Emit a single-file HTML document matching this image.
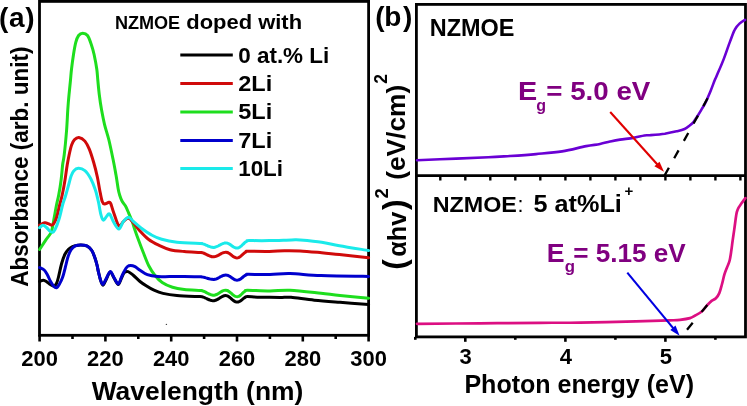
<!DOCTYPE html><html><head><meta charset="utf-8"><title>chart</title><style>html,body{margin:0;padding:0;background:#fff;width:747px;height:406px;overflow:hidden;}svg{display:block;will-change:transform;}</style></head><body><svg width="747" height="406" viewBox="0 0 747 406" font-family='"Liberation Sans", sans-serif' font-weight="bold" fill="#000"><rect x="39.5" y="1.4" width="329.1" height="333.9" fill="none" stroke="#000" stroke-width="2.8"/><line x1="39.6" y1="335" x2="39.6" y2="341.5" stroke="#000" stroke-width="2.6"/><line x1="72.5" y1="335" x2="72.5" y2="339.0" stroke="#000" stroke-width="2.6"/><line x1="105.4" y1="335" x2="105.4" y2="341.5" stroke="#000" stroke-width="2.6"/><line x1="138.3" y1="335" x2="138.3" y2="339.0" stroke="#000" stroke-width="2.6"/><line x1="171.2" y1="335" x2="171.2" y2="341.5" stroke="#000" stroke-width="2.6"/><line x1="204.1" y1="335" x2="204.1" y2="339.0" stroke="#000" stroke-width="2.6"/><line x1="237.0" y1="335" x2="237.0" y2="341.5" stroke="#000" stroke-width="2.6"/><line x1="269.9" y1="335" x2="269.9" y2="339.0" stroke="#000" stroke-width="2.6"/><line x1="302.8" y1="335" x2="302.8" y2="341.5" stroke="#000" stroke-width="2.6"/><line x1="335.7" y1="335" x2="335.7" y2="339.0" stroke="#000" stroke-width="2.6"/><line x1="368.6" y1="335" x2="368.6" y2="341.5" stroke="#000" stroke-width="2.6"/><text x="39.6" y="366.2" font-size="22" text-anchor="middle" textLength="36.6" lengthAdjust="spacingAndGlyphs">200</text><text x="105.4" y="366.2" font-size="22" text-anchor="middle" textLength="36.6" lengthAdjust="spacingAndGlyphs">220</text><text x="171.2" y="366.2" font-size="22" text-anchor="middle" textLength="36.6" lengthAdjust="spacingAndGlyphs">240</text><text x="237.0" y="366.2" font-size="22" text-anchor="middle" textLength="36.6" lengthAdjust="spacingAndGlyphs">260</text><text x="302.8" y="366.2" font-size="22" text-anchor="middle" textLength="36.6" lengthAdjust="spacingAndGlyphs">280</text><text x="368.6" y="366.2" font-size="22" text-anchor="middle" textLength="36.6" lengthAdjust="spacingAndGlyphs">300</text><rect x="416.4" y="4.4" width="329.1" height="332.5" fill="none" stroke="#000" stroke-width="2.8"/><line x1="416.4" y1="175.6" x2="745.5" y2="175.6" stroke="#000" stroke-width="2.6"/><line x1="440.3" y1="175.6" x2="440.3" y2="180.5" stroke="#000" stroke-width="2.4"/><line x1="465.3" y1="175.6" x2="465.3" y2="180.5" stroke="#000" stroke-width="2.4"/><line x1="490.3" y1="175.6" x2="490.3" y2="180.5" stroke="#000" stroke-width="2.4"/><line x1="515.3" y1="175.6" x2="515.3" y2="180.5" stroke="#000" stroke-width="2.4"/><line x1="540.3" y1="175.6" x2="540.3" y2="180.5" stroke="#000" stroke-width="2.4"/><line x1="565.4" y1="175.6" x2="565.4" y2="180.5" stroke="#000" stroke-width="2.4"/><line x1="590.4" y1="175.6" x2="590.4" y2="180.5" stroke="#000" stroke-width="2.4"/><line x1="615.4" y1="175.6" x2="615.4" y2="180.5" stroke="#000" stroke-width="2.4"/><line x1="640.4" y1="175.6" x2="640.4" y2="180.5" stroke="#000" stroke-width="2.4"/><line x1="665.4" y1="175.6" x2="665.4" y2="180.5" stroke="#000" stroke-width="2.4"/><line x1="690.4" y1="175.6" x2="690.4" y2="180.5" stroke="#000" stroke-width="2.4"/><line x1="715.4" y1="175.6" x2="715.4" y2="180.5" stroke="#000" stroke-width="2.4"/><line x1="740.4" y1="175.6" x2="740.4" y2="180.5" stroke="#000" stroke-width="2.4"/><line x1="415.3" y1="336.9" x2="415.3" y2="339.8" stroke="#000" stroke-width="2.6"/><line x1="465.3" y1="336.9" x2="465.3" y2="341.8" stroke="#000" stroke-width="2.6"/><line x1="515.3" y1="336.9" x2="515.3" y2="339.8" stroke="#000" stroke-width="2.6"/><line x1="565.4" y1="336.9" x2="565.4" y2="341.8" stroke="#000" stroke-width="2.6"/><line x1="615.4" y1="336.9" x2="615.4" y2="339.8" stroke="#000" stroke-width="2.6"/><line x1="665.4" y1="336.9" x2="665.4" y2="341.8" stroke="#000" stroke-width="2.6"/><line x1="715.4" y1="336.9" x2="715.4" y2="339.8" stroke="#000" stroke-width="2.6"/><text x="465.7" y="364.4" font-size="22" text-anchor="middle">3</text><text x="565.8" y="364.4" font-size="22" text-anchor="middle">4</text><text x="665.8" y="364.4" font-size="22" text-anchor="middle">5</text><path d="M39.6,249.5 C40.6,248.0 43.8,243.0 45.4,240.6 C47.0,238.2 48.5,236.6 49.5,235.0 C50.5,233.4 50.9,233.7 51.6,231.1 C52.3,228.5 53.1,223.7 53.9,219.3 C54.7,214.9 55.8,208.6 56.6,204.5 C57.4,200.4 58.0,199.1 58.7,195.0 C59.5,190.9 60.5,185.0 61.1,180.0 C61.8,175.0 62.1,169.2 62.6,165.0 C63.1,160.8 63.5,160.8 64.2,155.0 C64.9,149.2 66.0,137.6 66.6,130.0 C67.2,122.4 67.4,115.4 67.8,109.5 C68.2,103.6 68.5,99.7 69.0,94.8 C69.5,89.9 70.1,84.2 70.5,80.0 C70.9,75.8 71.0,73.5 71.5,69.3 C72.0,65.0 72.8,58.9 73.5,54.5 C74.2,50.1 74.9,45.9 75.7,42.7 C76.5,39.5 77.4,37.1 78.6,35.5 C79.8,33.9 81.3,33.3 82.8,33.3 C84.3,33.3 86.1,33.7 87.5,35.5 C88.9,37.3 90.1,41.0 91.2,44.2 C92.3,47.4 93.2,50.3 94.1,54.5 C95.0,58.7 96.2,65.0 96.8,69.3 C97.4,73.5 97.4,75.8 97.8,80.0 C98.2,84.2 98.7,89.9 99.3,94.8 C99.9,99.7 100.6,104.6 101.5,109.5 C102.4,114.4 103.3,119.2 104.5,124.3 C105.7,129.4 107.5,134.2 108.9,140.0 C110.3,145.8 111.8,153.2 113.0,159.0 C114.2,164.8 115.1,170.0 116.0,175.0 C116.9,180.0 117.6,185.6 118.2,189.0 C118.8,192.4 119.2,193.5 119.8,195.5 C120.4,197.5 121.0,199.2 122.0,201.0 C123.0,202.8 124.4,204.2 125.5,206.1 C126.6,208.0 127.4,210.1 128.5,212.7 C129.6,215.3 131.1,218.6 132.2,221.6 C133.3,224.6 134.0,227.3 135.1,230.5 C136.2,233.7 137.4,237.1 138.8,240.8 C140.2,244.6 141.8,248.8 143.5,253.0 C145.2,257.2 147.0,262.3 148.9,266.0 C150.8,269.7 152.6,272.4 154.8,275.2 C157.0,277.9 159.2,280.5 162.2,282.5 C165.1,284.5 168.8,286.1 172.5,287.3 C176.2,288.5 179.7,289.0 184.3,289.5 C188.9,290.0 197.1,290.2 200.0,290.4 C202.9,290.6 201.0,290.5 201.5,290.5 C202.0,290.6 202.5,290.8 203.0,291.0 C203.5,291.1 204.0,291.4 204.5,291.6 C205.0,291.8 205.5,292.1 206.0,292.4 C206.5,292.7 207.1,292.9 207.6,293.2 C208.1,293.5 208.6,293.8 209.1,294.0 C209.6,294.2 210.1,294.5 210.6,294.6 C211.1,294.8 211.6,295.0 212.1,295.1 C212.6,295.1 213.1,295.2 213.6,295.2 C214.1,295.2 214.6,295.1 215.1,295.0 C215.6,294.9 216.1,294.7 216.6,294.5 C217.1,294.2 217.6,294.0 218.1,293.7 C218.6,293.4 219.1,293.0 219.6,292.7 C220.1,292.4 220.6,292.0 221.1,291.7 C221.6,291.4 222.1,291.2 222.6,290.9 C223.1,290.7 223.6,290.5 224.1,290.4 C224.6,290.3 225.1,290.2 225.6,290.2 C226.1,290.2 226.7,290.3 227.3,290.5 C227.8,290.7 228.4,291.1 228.9,291.4 C229.5,291.8 230.0,292.3 230.6,292.7 C231.1,293.2 231.7,293.7 232.2,294.2 C232.8,294.6 233.3,295.1 233.9,295.5 C234.4,295.8 235.0,296.2 235.5,296.4 C236.1,296.6 236.6,296.7 237.2,296.7 C237.8,296.7 238.3,296.5 238.9,296.3 C239.5,296.0 240.1,295.6 240.6,295.1 C241.2,294.6 241.8,294.0 242.3,293.5 C242.9,293.0 243.5,292.4 244.1,291.9 C244.6,291.4 245.2,291.0 245.8,290.7 C246.4,290.5 243.5,290.3 247.5,290.3 C251.5,290.3 262.9,291.0 270.0,291.0 C277.1,291.0 281.5,289.8 290.0,290.2 C298.5,290.6 312.7,292.4 321.0,293.3 C329.3,294.2 332.1,294.7 340.0,295.5 C347.9,296.3 363.8,297.8 368.6,298.2" fill="none" stroke="#1ede1e" stroke-width="3.0" stroke-linejoin="round" stroke-linecap="round"/><path d="M39.6,281.5 C40.2,281.3 42.3,280.1 43.5,280.2 C44.7,280.3 45.9,281.3 47.0,282.0 C48.1,282.7 49.1,283.8 50.3,284.5 C51.5,285.2 53.0,286.4 54.0,286.2 C55.0,286.0 55.8,285.0 56.5,283.5 C57.2,282.0 57.7,280.2 58.5,277.0 C59.3,273.8 60.5,267.8 61.5,264.0 C62.5,260.2 63.6,257.0 64.8,254.5 C66.0,252.0 67.2,250.5 68.5,249.2 C69.8,247.9 71.2,247.2 72.5,246.6 C73.8,246.0 74.6,245.9 76.0,245.6 C77.4,245.3 78.8,244.9 80.7,245.0 C82.6,245.1 85.5,245.2 87.3,246.1 C89.1,247.0 90.6,248.7 91.8,250.5 C93.0,252.3 93.8,254.8 94.7,257.2 C95.6,259.6 96.4,262.5 97.0,265.0 C97.6,267.5 97.9,269.7 98.5,272.2 C99.1,274.7 99.8,277.8 100.5,280.0 C101.2,282.2 102.0,285.2 102.9,285.2 C103.8,285.2 104.8,282.2 106.0,280.0 C107.2,277.8 108.9,272.3 110.2,272.0 C111.5,271.7 112.7,275.9 114.0,278.0 C115.3,280.1 117.0,284.5 118.3,284.5 C119.5,284.5 120.5,280.0 121.5,278.0 C122.5,276.0 123.3,273.6 124.4,272.5 C125.5,271.4 126.7,271.2 128.1,271.6 C129.5,272.0 131.0,273.4 133.0,275.0 C135.0,276.6 137.7,279.6 140.0,281.5 C142.3,283.4 144.7,284.9 147.0,286.3 C149.3,287.8 151.3,289.0 154.0,290.2 C156.7,291.4 159.2,292.5 163.0,293.4 C166.8,294.3 170.7,295.0 176.9,295.5 C183.1,296.0 195.9,296.4 200.0,296.6 C204.1,296.8 201.1,296.7 201.7,296.8 C202.2,296.9 202.8,297.0 203.3,297.2 C203.9,297.4 204.5,297.6 205.0,297.9 C205.6,298.1 206.1,298.4 206.7,298.6 C207.3,298.9 207.8,299.2 208.4,299.4 C208.9,299.7 209.5,299.9 210.1,300.1 C210.6,300.3 211.2,300.4 211.7,300.5 C212.3,300.6 212.9,300.7 213.4,300.7 C213.9,300.7 214.4,300.6 214.9,300.5 C215.4,300.4 215.9,300.2 216.4,300.0 C217.0,299.7 217.5,299.4 218.0,299.1 C218.5,298.8 219.0,298.5 219.5,298.2 C220.0,297.8 220.5,297.5 221.0,297.2 C221.5,296.9 222.0,296.6 222.6,296.3 C223.1,296.1 223.6,295.9 224.1,295.8 C224.6,295.7 225.1,295.6 225.6,295.6 C226.1,295.6 226.7,295.7 227.3,295.9 C227.8,296.1 228.4,296.5 228.9,296.8 C229.5,297.2 230.1,297.7 230.6,298.1 C231.2,298.6 231.7,299.1 232.3,299.6 C232.8,300.0 233.4,300.5 234.0,300.9 C234.5,301.2 235.1,301.6 235.6,301.8 C236.2,302.0 236.7,302.1 237.3,302.1 C237.9,302.1 238.4,302.0 239.0,301.7 C239.6,301.5 240.1,301.1 240.7,300.7 C241.3,300.3 241.8,299.8 242.4,299.4 C243.0,298.9 243.5,298.4 244.1,298.0 C244.7,297.6 245.2,297.2 245.8,297.0 C246.4,296.7 245.1,296.6 247.5,296.6 C249.9,296.6 254.6,297.1 260.0,297.2 C265.4,297.3 274.8,297.4 280.0,297.4 C285.2,297.4 285.3,296.8 291.0,297.3 C296.7,297.8 306.1,299.4 314.3,300.2 C322.5,301.0 330.9,301.6 340.0,302.3 C349.1,303.0 363.8,304.0 368.6,304.4" fill="none" stroke="#000000" stroke-width="3.0" stroke-linejoin="round" stroke-linecap="round"/><path d="M39.6,225.2 C40.5,224.8 43.4,223.1 44.8,222.8 C46.2,222.5 47.1,223.2 48.2,223.6 C49.3,224.0 50.5,225.2 51.5,225.2 C52.5,225.2 53.1,224.6 53.9,223.4 C54.7,222.2 55.5,221.0 56.5,217.8 C57.5,214.7 58.8,208.3 59.8,204.5 C60.8,200.7 61.3,199.1 62.2,195.0 C63.1,190.9 64.2,185.0 65.0,180.0 C65.8,175.0 66.5,169.2 67.2,165.0 C67.9,160.8 68.4,158.3 69.1,155.0 C69.8,151.7 70.7,147.5 71.6,145.0 C72.5,142.5 73.2,141.1 74.4,139.8 C75.6,138.5 77.2,137.2 78.9,137.4 C80.7,137.6 83.2,139.1 84.9,141.1 C86.6,143.1 87.8,145.6 89.3,149.2 C90.8,152.8 92.3,157.8 93.7,162.5 C95.1,167.2 96.4,172.7 97.4,177.3 C98.4,181.9 98.9,186.0 99.7,190.0 C100.5,194.0 101.4,199.2 102.2,201.5 C103.0,203.8 103.5,203.9 104.6,204.0 C105.7,204.1 107.9,202.4 108.9,202.3 C109.9,202.2 109.9,201.8 110.7,203.5 C111.5,205.2 112.3,208.9 113.7,212.7 C115.1,216.4 117.3,224.5 118.9,226.0 C120.5,227.5 121.7,222.9 123.3,221.6 C124.9,220.2 126.8,217.7 128.5,217.9 C130.2,218.2 131.8,221.0 133.6,223.1 C135.4,225.2 137.0,227.8 139.5,230.5 C142.0,233.2 145.2,236.9 148.4,239.3 C151.6,241.8 155.1,243.5 158.7,245.2 C162.3,246.9 165.7,248.6 170.0,249.7 C174.3,250.8 179.3,251.1 184.3,251.5 C189.3,251.9 197.1,252.2 200.0,252.4 C202.9,252.6 201.0,252.4 201.5,252.5 C202.0,252.6 202.5,252.8 203.0,252.9 C203.5,253.1 204.0,253.3 204.5,253.5 C205.0,253.7 205.5,254.0 206.0,254.2 C206.5,254.5 207.0,254.7 207.5,255.0 C208.0,255.2 208.5,255.5 209.0,255.7 C209.5,255.9 210.0,256.1 210.5,256.3 C211.0,256.4 211.5,256.6 212.0,256.7 C212.5,256.8 213.0,256.8 213.5,256.8 C214.0,256.8 214.5,256.7 215.1,256.6 C215.6,256.5 216.1,256.3 216.6,256.1 C217.1,255.9 217.6,255.7 218.2,255.4 C218.7,255.1 219.2,254.8 219.7,254.5 C220.2,254.2 220.7,253.9 221.2,253.6 C221.8,253.3 222.3,253.1 222.8,252.9 C223.3,252.7 223.8,252.5 224.3,252.4 C224.9,252.3 225.4,252.2 225.9,252.2 C226.4,252.2 227.0,252.3 227.5,252.5 C228.0,252.7 228.5,253.0 229.1,253.3 C229.6,253.6 230.1,254.0 230.7,254.4 C231.2,254.8 231.7,255.3 232.2,255.7 C232.8,256.1 233.3,256.5 233.8,256.8 C234.4,257.1 234.9,257.4 235.4,257.6 C235.9,257.8 236.5,257.9 237.0,257.9 C237.5,257.9 238.0,257.8 238.6,257.6 C239.1,257.4 239.6,257.0 240.1,256.7 C240.7,256.3 241.2,255.8 241.7,255.3 C242.2,254.9 242.8,254.3 243.3,253.9 C243.8,253.4 244.3,252.9 244.9,252.5 C245.4,252.2 245.9,251.8 246.4,251.6 C247.0,251.4 244.2,251.3 248.0,251.3 C251.8,251.3 263.4,251.5 269.5,251.4 C275.6,251.3 279.2,250.8 284.3,250.7 C289.4,250.6 293.8,250.6 300.0,250.9 C306.2,251.2 315.1,252.1 321.7,252.7 C328.3,253.3 331.6,253.8 339.4,254.6 C347.2,255.4 363.7,257.2 368.6,257.7" fill="none" stroke="#d00a0a" stroke-width="3.0" stroke-linejoin="round" stroke-linecap="round"/><path d="M39.6,267.5 C40.4,267.9 42.9,268.8 44.2,270.0 C45.5,271.2 46.5,273.2 47.5,275.0 C48.5,276.8 49.3,279.2 50.3,281.0 C51.3,282.8 52.5,284.9 53.5,286.0 C54.5,287.1 55.5,288.1 56.5,287.8 C57.5,287.5 58.5,285.8 59.5,284.0 C60.5,282.2 61.5,280.5 62.6,277.3 C63.7,274.1 65.0,268.5 65.9,265.0 C66.8,261.5 67.2,258.9 68.1,256.4 C69.0,253.9 70.0,251.5 71.1,249.8 C72.2,248.1 73.2,246.9 74.8,246.1 C76.4,245.3 78.6,245.0 80.7,245.0 C82.8,245.0 85.5,245.2 87.3,246.1 C89.1,247.0 90.6,248.7 91.8,250.5 C93.0,252.3 93.8,254.8 94.7,257.2 C95.6,259.6 96.4,262.5 97.0,265.0 C97.6,267.5 97.9,269.7 98.5,272.2 C99.1,274.7 99.8,277.9 100.5,280.0 C101.2,282.1 102.0,284.7 102.9,284.5 C103.8,284.3 104.8,281.1 106.0,279.0 C107.2,276.9 108.9,271.9 110.2,271.6 C111.5,271.4 112.7,275.4 114.0,277.5 C115.3,279.6 117.0,284.0 118.3,283.9 C119.5,283.8 120.5,279.2 121.5,277.0 C122.5,274.8 123.4,272.6 124.4,270.9 C125.4,269.1 126.5,267.4 127.5,266.5 C128.5,265.6 129.3,265.4 130.6,265.4 C131.8,265.4 133.4,265.8 135.0,266.6 C136.6,267.4 137.9,269.0 140.0,270.3 C142.1,271.6 144.5,273.6 147.4,274.7 C150.3,275.8 154.0,276.3 157.7,276.6 C161.4,276.9 165.1,276.6 169.5,276.6 C173.9,276.6 179.2,276.6 184.3,276.6 C189.4,276.6 197.1,276.8 200.0,276.8 C202.9,276.8 201.0,276.8 201.5,276.9 C202.0,276.9 202.5,277.0 203.0,277.1 C203.5,277.2 204.0,277.3 204.5,277.4 C205.0,277.6 205.5,277.7 206.0,277.9 C206.5,278.0 207.0,278.2 207.5,278.3 C208.0,278.5 208.5,278.6 209.0,278.8 C209.5,278.9 210.0,279.0 210.5,279.1 C211.0,279.2 211.5,279.3 212.0,279.3 C212.5,279.4 213.0,279.4 213.5,279.4 C214.0,279.4 214.5,279.3 215.1,279.2 C215.6,279.1 216.1,279.0 216.6,278.8 C217.1,278.6 217.6,278.3 218.2,278.0 C218.7,277.8 219.2,277.5 219.7,277.2 C220.2,276.9 220.7,276.6 221.2,276.4 C221.8,276.1 222.3,275.8 222.8,275.6 C223.3,275.4 223.8,275.3 224.3,275.2 C224.9,275.1 225.4,275.0 225.9,275.0 C226.4,275.0 227.0,275.1 227.5,275.3 C228.0,275.4 228.5,275.7 229.1,276.0 C229.6,276.3 230.1,276.7 230.7,277.0 C231.2,277.4 231.7,277.8 232.2,278.2 C232.8,278.5 233.3,278.9 233.8,279.2 C234.4,279.5 234.9,279.8 235.4,279.9 C235.9,280.1 236.5,280.2 237.0,280.2 C237.5,280.2 238.1,280.1 238.6,279.9 C239.2,279.7 239.7,279.4 240.3,279.1 C240.8,278.8 241.4,278.3 241.9,277.9 C242.5,277.5 243.0,277.0 243.6,276.6 C244.1,276.2 244.7,275.7 245.2,275.4 C245.8,275.1 246.3,274.8 246.9,274.6 C247.4,274.4 244.6,274.3 248.5,274.3 C252.4,274.3 263.1,274.6 270.0,274.5 C276.9,274.4 281.5,273.4 290.0,273.6 C298.5,273.8 307.9,275.1 321.0,275.6 C334.1,276.1 360.7,276.3 368.6,276.4" fill="none" stroke="#0000cd" stroke-width="3.0" stroke-linejoin="round" stroke-linecap="round"/><path d="M39.6,227.7 C40.1,227.3 41.8,225.2 42.9,225.2 C44.0,225.2 45.3,226.5 46.5,227.5 C47.7,228.5 49.0,230.4 50.0,231.2 C51.0,232.0 51.8,232.6 52.6,232.3 C53.4,232.1 53.9,231.9 55.0,229.7 C56.1,227.5 57.7,223.5 59.0,219.3 C60.3,215.1 61.6,208.6 62.7,204.5 C63.8,200.4 64.8,198.5 65.8,195.0 C66.8,191.5 68.1,186.7 69.0,183.5 C69.9,180.3 70.3,178.1 71.1,176.0 C71.9,173.9 72.5,172.3 73.7,171.0 C74.9,169.7 76.4,168.4 78.3,168.3 C80.2,168.2 82.8,168.9 84.9,170.6 C87.0,172.3 89.0,175.5 90.8,178.7 C92.5,181.9 94.1,186.1 95.4,190.0 C96.7,193.9 97.6,198.2 98.5,202.3 C99.4,206.4 100.1,211.6 100.9,214.6 C101.7,217.6 102.5,219.9 103.4,220.2 C104.3,220.5 105.5,217.5 106.5,216.5 C107.5,215.5 108.4,213.0 109.6,214.0 C110.8,215.0 112.2,219.8 113.7,222.3 C115.2,224.8 117.3,229.1 118.9,229.0 C120.5,228.9 121.7,223.6 123.3,221.6 C124.9,219.6 126.8,217.2 128.5,217.2 C130.2,217.2 131.3,219.6 133.6,221.6 C135.9,223.6 139.5,226.8 142.5,229.0 C145.5,231.2 148.2,233.2 151.4,234.9 C154.6,236.6 157.4,238.1 161.7,239.3 C165.9,240.5 170.5,241.5 176.9,242.2 C183.3,242.9 195.9,243.2 200.0,243.4 C204.1,243.6 201.0,243.4 201.5,243.5 C202.0,243.6 202.5,243.7 203.0,243.9 C203.5,244.0 204.0,244.2 204.5,244.4 C205.0,244.6 205.5,244.8 206.0,245.1 C206.5,245.3 207.0,245.5 207.5,245.7 C208.0,246.0 208.5,246.2 209.0,246.4 C209.5,246.6 210.0,246.8 210.5,246.9 C211.0,247.1 211.5,247.2 212.0,247.3 C212.5,247.4 213.0,247.4 213.5,247.4 C214.0,247.4 214.5,247.3 215.1,247.2 C215.6,247.1 216.1,246.9 216.6,246.7 C217.1,246.5 217.6,246.3 218.2,246.0 C218.7,245.7 219.2,245.4 219.7,245.2 C220.2,244.9 220.7,244.6 221.2,244.3 C221.8,244.0 222.3,243.8 222.8,243.6 C223.3,243.4 223.8,243.2 224.3,243.1 C224.9,243.0 225.4,242.9 225.9,242.9 C226.4,242.9 227.0,243.0 227.5,243.2 C228.0,243.3 228.5,243.6 229.1,243.9 C229.6,244.2 230.1,244.6 230.7,244.9 C231.2,245.3 231.7,245.7 232.2,246.1 C232.8,246.4 233.3,246.8 233.8,247.1 C234.4,247.4 234.9,247.7 235.4,247.8 C235.9,248.0 236.5,248.1 237.0,248.1 C237.5,248.1 238.0,248.0 238.5,247.8 C239.0,247.6 239.5,247.3 240.0,247.0 C240.5,246.7 241.0,246.2 241.5,245.8 C242.0,245.3 242.5,244.8 243.0,244.3 C243.5,243.9 244.0,243.4 244.5,242.9 C245.0,242.5 245.5,242.0 246.0,241.7 C246.5,241.4 247.0,241.1 247.5,240.9 C248.0,240.7 245.3,240.6 249.0,240.6 C252.7,240.6 262.4,240.7 269.5,240.6 C276.6,240.5 286.6,240.1 291.7,240.0 C296.8,239.9 295.0,239.6 300.0,240.0 C305.0,240.4 315.1,241.2 321.7,242.2 C328.3,243.2 331.6,244.4 339.4,245.8 C347.2,247.2 363.7,249.7 368.6,250.5" fill="none" stroke="#1aeaea" stroke-width="3.0" stroke-linejoin="round" stroke-linecap="round"/><path d="M417.0,160.2 C423.5,159.9 444.3,159.1 456.2,158.6 C468.1,158.1 479.3,157.7 488.3,157.3 C497.3,156.9 502.1,156.5 510.0,156.0 C518.0,155.5 527.3,154.9 536.0,154.1 C544.7,153.3 553.7,152.7 562.1,151.4 C570.5,150.1 579.9,147.3 586.2,146.1 C592.5,144.9 596.0,144.8 600.0,144.0 C604.0,143.2 606.7,142.2 610.0,141.5 C613.3,140.8 616.1,140.2 620.0,139.6 C623.9,139.0 629.2,138.6 633.3,137.9 C637.4,137.2 641.6,135.9 644.4,135.5 C647.2,135.1 646.6,135.5 650.0,135.2 C653.4,134.9 660.4,134.3 664.8,133.7 C669.2,133.0 673.3,132.1 676.6,131.3 C679.9,130.5 682.5,129.9 684.6,129.0 C686.8,128.1 688.0,126.9 689.5,125.7 C691.0,124.5 692.2,123.7 693.5,122.1 C694.8,120.5 696.1,118.2 697.4,116.2 C698.7,114.2 700.0,112.0 701.3,109.8 C702.6,107.6 703.8,106.2 705.3,103.0 C706.8,99.8 709.0,94.7 710.6,90.9 C712.2,87.1 713.8,82.4 714.8,80.0 C715.8,77.6 714.9,79.9 716.4,76.4 C717.9,72.9 721.5,64.9 723.7,59.1 C726.0,53.4 728.0,46.8 729.9,41.9 C731.8,37.0 733.1,32.7 734.8,29.6 C736.4,26.5 738.1,25.0 739.8,23.4 C741.5,21.8 744.1,20.4 745.0,19.8" fill="none" stroke="#6a00d4" stroke-width="2.6" stroke-linejoin="round" stroke-linecap="round"/><path d="M417.0,323.8 C427.5,323.7 459.5,323.5 480.0,323.3 C500.5,323.1 523.3,322.9 540.0,322.8 C556.7,322.7 564.0,322.9 580.0,322.6 C596.0,322.4 621.0,321.7 635.9,321.3 C650.8,320.9 662.0,320.6 669.4,320.4 C676.8,320.1 676.6,320.2 680.0,319.8 C683.4,319.4 687.5,318.8 690.0,318.1 C692.5,317.4 693.2,316.6 695.2,315.5 C697.2,314.4 700.1,312.9 702.1,311.2 C704.1,309.5 705.6,306.9 707.2,305.2 C708.8,303.5 710.2,302.0 711.6,300.9 C713.0,299.8 714.6,299.6 715.9,298.3 C717.2,297.0 718.3,295.4 719.3,293.1 C720.3,290.8 721.0,287.7 721.9,284.5 C722.8,281.3 723.6,277.0 724.5,274.1 C725.4,271.2 726.2,269.5 727.1,267.2 C728.0,264.9 729.0,263.2 729.7,260.3 C730.4,257.4 730.9,253.3 731.4,250.0 C731.9,246.7 732.2,243.5 732.7,240.2 C733.2,236.8 733.7,233.3 734.2,229.9 C734.7,226.5 735.2,222.4 735.6,219.5 C736.0,216.6 736.3,214.2 736.8,212.2 C737.3,210.2 737.8,209.2 738.6,207.7 C739.4,206.2 740.4,204.9 741.5,203.3 C742.6,201.7 744.8,199.0 745.4,198.1" fill="none" stroke="#dc0f82" stroke-width="2.7" stroke-linejoin="round" stroke-linecap="round"/><line x1="664.5" y1="175.6" x2="707.6" y2="98.3" stroke="#000" stroke-width="2.3" stroke-dasharray="9 10.9"/><line x1="707.3" y1="304.9" x2="681" y2="337" stroke="#000" stroke-width="2.3" stroke-dasharray="9 14"/><line x1="610.2" y1="112.0" x2="658.3" y2="165.5" stroke="#e00000" stroke-width="2.1"/><polygon points="664.0,171.8 654.4,166.3 659.5,161.7" fill="#e00000"/><line x1="627.3" y1="272.6" x2="674.2" y2="329.3" stroke="#0000e0" stroke-width="2.1"/><polygon points="679.6,335.8 670.3,329.9 675.5,325.5" fill="#0000e0"/><circle cx="166.4" cy="324.4" r="0.7" fill="#444"/><text x="-0.9 9.1 25.2" y="27.2" font-size="28">(a)</text><text x="375.3 384.2 403" y="26.3" font-size="28">(b)</text><text x="114.9" y="28.6" font-size="18.5" textLength="65.3" lengthAdjust="spacingAndGlyphs">NZMOE</text><text x="186.3" y="28.5" font-size="21" textLength="115.8" lengthAdjust="spacingAndGlyphs">doped with</text><line x1="180.3" y1="55.0" x2="232.8" y2="55.0" stroke="#000000" stroke-width="3"/><text x="238.2" y="63.3" font-size="21.5" textLength="91.1" lengthAdjust="spacingAndGlyphs">0 at.% Li</text><line x1="180.3" y1="83.4" x2="232.8" y2="83.4" stroke="#d00a0a" stroke-width="3"/><text x="238.2" y="91.0" font-size="21.5" textLength="34.0" lengthAdjust="spacingAndGlyphs">2Li</text><line x1="180.3" y1="111.9" x2="232.8" y2="111.9" stroke="#1ede1e" stroke-width="3"/><text x="238.2" y="119.2" font-size="21.5" textLength="34.0" lengthAdjust="spacingAndGlyphs">5Li</text><line x1="180.3" y1="140.4" x2="232.8" y2="140.4" stroke="#0000cd" stroke-width="3"/><text x="238.2" y="147.5" font-size="21.5" textLength="34.0" lengthAdjust="spacingAndGlyphs">7Li</text><line x1="180.3" y1="168.5" x2="232.8" y2="168.5" stroke="#1aeaea" stroke-width="3"/><text x="238.2" y="175.6" font-size="21.5" textLength="44.8" lengthAdjust="spacingAndGlyphs">10Li</text><text x="91.7" y="400" font-size="25.5" textLength="211.6" lengthAdjust="spacingAndGlyphs">Wavelength (nm)</text><text x="464.4" y="393" font-size="25.5" textLength="229.6" lengthAdjust="spacingAndGlyphs">Photon energy (eV)</text><text transform="translate(27.6,286.7) rotate(-90)" x="0" y="0" font-size="23" textLength="240.3" lengthAdjust="spacingAndGlyphs">Absorbance (arb. unit)</text><text transform="translate(404.9,269.8) rotate(-90)" font-size="31.7">(</text><text transform="translate(405.5,256.8) rotate(-90)" font-size="26.0" textLength="45" lengthAdjust="spacingAndGlyphs">&#945;hv</text><text transform="translate(404.9,209.9) rotate(-90)" font-size="31.7">)</text><text transform="translate(388.0,198.5) rotate(-90)" font-size="18.5">2</text><text transform="translate(405.3,179.8) rotate(-90)" font-size="26.0" textLength="95" lengthAdjust="spacingAndGlyphs">(eV/cm)</text><text transform="translate(386.6,83.7) rotate(-90)" font-size="17.5">2</text><text x="429.8" y="35.7" font-size="23.3" textLength="84.7" lengthAdjust="spacingAndGlyphs">NZMOE</text><text x="432.7" y="211.8" font-size="22" textLength="84.2" lengthAdjust="spacingAndGlyphs">NZMOE</text><text x="517.5" y="211.8" font-size="21.5" font-weight="normal">:</text><text x="533.5" y="212" font-size="24.5" textLength="88.3" lengthAdjust="spacingAndGlyphs">5 at%Li</text><text x="624.5" y="196" font-size="15">+</text><g fill="#800080"><text x="517.9" y="99.6" font-size="26.5" textLength="19.2" lengthAdjust="spacingAndGlyphs">E</text><text x="536.3" y="110.6" font-size="16">g</text><text x="546.3" y="99.6" font-size="26.5" textLength="104" lengthAdjust="spacingAndGlyphs">= 5.0 eV</text><text x="546.8" y="262.2" font-size="26" textLength="17.8" lengthAdjust="spacingAndGlyphs">E</text><text x="564.8" y="271.9" font-size="16.8">g</text><text x="573.2" y="262.2" font-size="26" textLength="112.6" lengthAdjust="spacingAndGlyphs">= 5.15 eV</text></g></svg></body></html>
